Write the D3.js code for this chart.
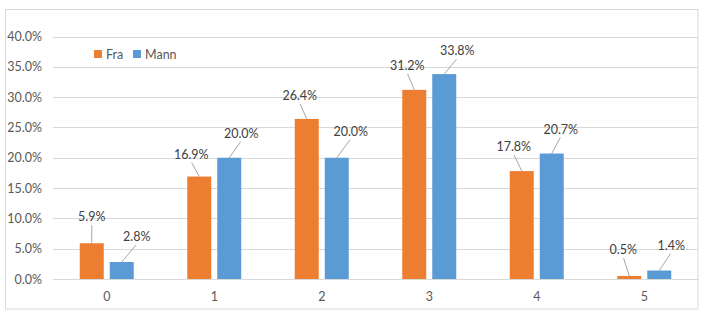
<!DOCTYPE html>
<html>
<head>
<meta charset="utf-8">
<script src="https://cdn.jsdelivr.net/npm/d3@7/dist/d3.min.js"></script>
<style>
  html, body { margin: 0; padding: 0; background: #fff; }
  svg { display: block; font-family: Lato, "Liberation Sans", sans-serif; }
</style>
</head>
<body>
<svg id="chart" width="709" height="328"></svg>
<script>
// share of respondents per count, by gender
const categories = ["0", "1", "2", "3", "4", "5"];
const seriesNames = ["Fra", "Mann"];
const fraValues = [5.9, 16.9, 26.4, 31.2, 17.8, 0.5];
const mannValues = [2.8, 20.0, 20.0, 33.8, 20.7, 1.4];
const yTicks = [0, 5, 10, 15, 20, 25, 30, 35, 40];

// hand placed data label offsets (dx, dy from bar top centre)
const fraLabelOffsets = [[0, -22], [-8, -18], [-7, -19], [-7, -20], [-8, -20], [-6, -22]];
const mannLabelOffsets = [[15, -21], [12, -20], [14, -22], [13, -19], [9, -20], [12, -21]];

const colors = { Fra: "#ED7D31", Mann: "#5B9BD5" };
const grid = "#D9D9D9";
const fontSize = 12.5;

const svg = d3.select("#chart");
const margin = { top: 36.5, right: 11, bottom: 49, left: 53 };
const width = 709, height = 328;

// outer chart frame
svg.append("rect")
  .attr("x", 5.5).attr("y", 9.5)
  .attr("width", 692.5).attr("height", 299.5)
  .attr("fill", "#fff")
  .attr("stroke", grid);

const x = d3.scaleBand()
  .domain(categories)
  .range([margin.left, width - margin.right]);

// pair of bars centred in each category band
const pairHalf = 27;
const xInner = d3.scaleBand()
  .domain(seriesNames)
  .range([x.bandwidth() / 2 - pairHalf, x.bandwidth() / 2 + pairHalf])
  .paddingInner(0.2);

const y = d3.scaleLinear()
  .domain([0, 40])
  .range([height - margin.bottom, margin.top]);

// y axis with gridlines
const yAxis = svg.append("g")
  .attr("transform", `translate(${margin.left},0)`)
  .call(d3.axisLeft(y)
    .tickValues(yTicks)
    .tickSize(-(width - margin.right - margin.left))
    .tickPadding(11)
    .tickFormat(d => d.toFixed(1) + "%"));
yAxis.select(".domain").remove();
yAxis.selectAll(".tick line").attr("stroke", grid).attr("shape-rendering", "crispEdges");
yAxis.selectAll(".tick text")
  .attr("fill", "#595959")
  .attr("font-size", fontSize)
  .attr("font-family", "Lato, sans-serif");

// x axis
const xAxis = svg.append("g")
  .attr("transform", `translate(0,${y(0)})`)
  .call(d3.axisBottom(x).tickSize(0).tickPadding(13));
xAxis.select(".domain").attr("stroke", grid).attr("shape-rendering", "crispEdges");
xAxis.selectAll(".tick text")
  .attr("fill", "#595959")
  .attr("font-size", fontSize)
  .attr("font-family", "Lato, sans-serif");

const rows = categories.map((c, i) => ({
  cat: c,
  values: [
    { key: "Fra", value: fraValues[i], off: fraLabelOffsets[i] },
    { key: "Mann", value: mannValues[i], off: mannLabelOffsets[i] }
  ]
}));

const groups = svg.append("g")
  .selectAll("g")
  .data(rows)
  .join("g")
  .attr("transform", d => `translate(${x(d.cat)},0)`);

groups.selectAll("rect")
  .data(d => d.values)
  .join("rect")
  .attr("x", d => xInner(d.key))
  .attr("width", xInner.bandwidth())
  .attr("y", d => y(d.value))
  .attr("height", d => y(0) - y(d.value))
  .attr("fill", d => colors[d.key]);

// leader lines from labels down to bar tops
groups.selectAll("line.leader")
  .data(d => d.values)
  .join("line")
  .attr("class", "leader")
  .attr("x1", d => xInner(d.key) + xInner.bandwidth() / 2 + d.off[0] * 0.95)
  .attr("y1", d => y(d.value) + d.off[1] + 4)
  .attr("x2", d => xInner(d.key) + xInner.bandwidth() / 2)
  .attr("y2", d => y(d.value))
  .attr("stroke", "#A6A6A6")
  .attr("stroke-width", 1);

groups.selectAll("text.value")
  .data(d => d.values)
  .join("text")
  .attr("class", "value")
  .attr("x", d => xInner(d.key) + xInner.bandwidth() / 2 + d.off[0])
  .attr("y", d => y(d.value) + d.off[1])
  .attr("text-anchor", "middle")
  .attr("fill", "#404040")
  .attr("font-size", fontSize)
  .text(d => d.value.toFixed(1) + "%");

// legend
const legend = svg.append("g").attr("transform", "translate(94,50)");
const legendX = [0, 39];
seriesNames.forEach((name, i) => {
  const g = legend.append("g").attr("transform", `translate(${legendX[i]},0)`);
  g.append("rect").attr("width", 8).attr("height", 8).attr("fill", colors[name]);
  g.append("text")
    .attr("x", 12).attr("y", 8.5)
    .attr("fill", "#595959")
    .attr("font-size", fontSize)
    .text(name);
});
</script>
</body>
</html>
